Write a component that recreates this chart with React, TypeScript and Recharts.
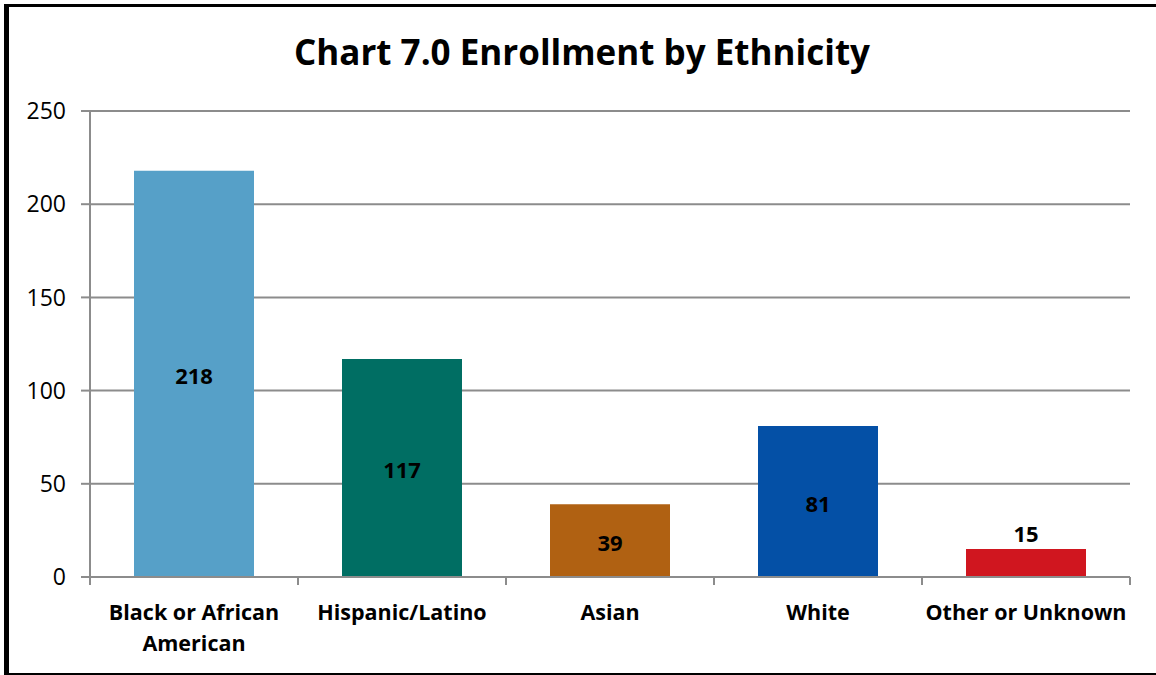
import React from "react";
import { BarChart, Bar, XAxis, YAxis, CartesianGrid, LabelList, Cell } from "recharts";

const categories = ["Black or African American", "Hispanic/Latino", "Asian", "White", "Other or Unknown"];
const enrollment = [218, 117, 39, 81, 15];
const barColors = ["#56a0c8", "#006e63", "#b06112", "#0450a6", "#d0161f"];
const yTicks = [0, 50, 100, 150, 200, 250];

const data = categories.map((name, i) => ({ name, value: enrollment[i] }));

const FONT = "'Open Sans', sans-serif";
const AXIS_GRAY = "#8c8c8c";

// long labels wrap before the last word, like the original
const wrapLabel = (label: string) => {
  if (label.length <= 18) return [label];
  const words = label.split(" ");
  return [words.slice(0, -1).join(" "), words[words.length - 1]];
};

const CategoryTick = (props: any) => {
  const { x, y, payload, index, visibleTicksCount } = props;
  const half = payload.offset || 0;
  const lines = wrapLabel(String(payload.value));
  return (
    <g>
      <line x1={x - half} x2={x - half} y1={y - 8} y2={y} stroke={AXIS_GRAY} strokeWidth={2} />
      {index === visibleTicksCount - 1 && (
        <line x1={x + half} x2={x + half} y1={y - 8} y2={y} stroke={AXIS_GRAY} strokeWidth={2} />
      )}
      <text
        x={x}
        y={y + 35}
        textAnchor="middle"
        fontFamily={FONT}
        fontWeight={700}
        fontSize={21.5}
        fill="#000"
      >
        {lines.map((l, i) => (
          <tspan key={i} x={x} dy={i === 0 ? 0 : 31}>
            {l}
          </tspan>
        ))}
      </text>
    </g>
  );
};

const ValueLabel = (props: any) => {
  const { x, y, width, height, value } = props;
  const inside = height > 40;
  return (
    <text
      x={x + width / 2}
      y={inside ? y + height / 2 + 1 : y - 16}
      textAnchor="middle"
      dominantBaseline="central"
      fontFamily={FONT}
      fontWeight={700}
      fontSize={22}
      fill="#000"
    >
      {value}
    </text>
  );
};

export default function App() {
  return (
    <div style={{ position: "absolute", left: 0, top: 0, width: 1156, height: 675, background: "#fff" }}>
      <div
        style={{
          position: "absolute",
          left: 4,
          top: 4,
          width: 1152,
          height: 671,
          borderLeft: "5px solid #000",
          borderTop: "3px solid #000",
          borderBottom: "2px solid #000",
          boxSizing: "border-box",
        }}
      />
      <div
        style={{
          position: "absolute",
          left: 0,
          top: 27,
          width: 1164,
          textAlign: "center",
          fontFamily: FONT,
          fontWeight: 700,
          fontSize: 35,
          lineHeight: "50px",
          color: "#000",
        }}
      >
        Chart 7.0 Enrollment by Ethnicity
      </div>
      <div style={{ position: "absolute", left: 0, top: 0 }}>
        <BarChart
          width={1156}
          height={675}
          data={data}
          margin={{ top: 111, right: 26, bottom: 0, left: 0 }}
          barCategoryGap={44}
        >
          <CartesianGrid vertical={false} stroke={AXIS_GRAY} strokeWidth={2} />
          <YAxis
            width={90}
            domain={[0, 250]}
            ticks={yTicks}
            interval={0}
            tickSize={9}
            tickMargin={15}
            stroke={AXIS_GRAY}
            strokeWidth={2}
            tick={{ fill: "#000", fontFamily: FONT, fontSize: 23 }}
          />
          <XAxis
            dataKey="name"
            interval={0}
            height={98}
            stroke={AXIS_GRAY}
            strokeWidth={2}
            tickLine={false}
            tick={<CategoryTick />}
          />
          <Bar dataKey="value" isAnimationActive={false}>
            {data.map((d, i) => (
              <Cell key={d.name} fill={barColors[i]} />
            ))}
            <LabelList dataKey="value" content={<ValueLabel />} />
          </Bar>
        </BarChart>
      </div>
    </div>
  );
}
